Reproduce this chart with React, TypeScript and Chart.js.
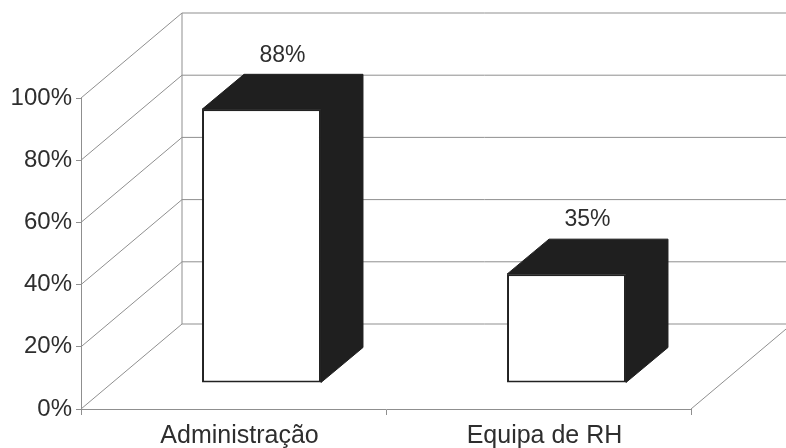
import React, { useEffect, useRef } from "react";
import { Chart, registerables } from "chart.js";

Chart.register(...registerables);

const categories = ["Administração", "Equipa de RH"];
const values = [0.88, 0.35];
const valueLabels = ["88%", "35%"];
const yTicks = [0, 0.2, 0.4, 0.6, 0.8, 1];

const FONT = '"Liberation Sans", Arial, Helvetica, sans-serif';
const WALL_DEPTH = { x: 101, y: -85 };
const BAR_SHIFT = { x: 28, y: -26 };
const BAR_DEPTH = { x: 42, y: -35 };
const LINE = "#8f8f8f";
const DARK = "#1f1f1f";
const TEXT = "#2e2e2e";

const walls3d = {
  id: "walls3d",
  beforeDatasetsDraw(chart: any) {
    const { ctx, chartArea, scales } = chart;
    const ys = scales.y;
    const L = chartArea.left;
    const R = chartArea.right;
    ctx.save();
    ctx.strokeStyle = LINE;
    ctx.lineWidth = 1;
    ctx.beginPath();
    yTicks.forEach((v) => {
      const py = ys.getPixelForValue(v);
      ctx.moveTo(L, py);
      ctx.lineTo(L + WALL_DEPTH.x, py + WALL_DEPTH.y);
      ctx.lineTo(R + WALL_DEPTH.x, py + WALL_DEPTH.y);
    });
    const y0 = ys.getPixelForValue(0);
    const y1 = ys.getPixelForValue(1);
    ctx.moveTo(L + WALL_DEPTH.x, y0 + WALL_DEPTH.y);
    ctx.lineTo(L + WALL_DEPTH.x, y1 + WALL_DEPTH.y);
    ctx.moveTo(R, y0);
    ctx.lineTo(R + WALL_DEPTH.x, y0 + WALL_DEPTH.y);
    ctx.stroke();

    // dark top and side faces of the 3D bars
    ctx.translate(BAR_SHIFT.x, BAR_SHIFT.y);
    const meta = chart.getDatasetMeta(0);
    ctx.fillStyle = DARK;
    ctx.strokeStyle = DARK;
    meta.data.forEach((bar: any) => {
      const { x, y, base, width } = bar.getProps(["x", "y", "base", "width"], true);
      const l = x - width / 2;
      const r = x + width / 2;
      ctx.beginPath();
      ctx.moveTo(l, y);
      ctx.lineTo(l + BAR_DEPTH.x, y + BAR_DEPTH.y);
      ctx.lineTo(r + BAR_DEPTH.x, y + BAR_DEPTH.y);
      ctx.lineTo(r + BAR_DEPTH.x, base + BAR_DEPTH.y);
      ctx.lineTo(r, base);
      ctx.lineTo(r, y);
      ctx.closePath();
      ctx.fill();
      ctx.stroke();
    });
    ctx.restore();
  },
  beforeDatasetDraw(chart: any) {
    chart.ctx.save();
    chart.ctx.translate(BAR_SHIFT.x, BAR_SHIFT.y);
  },
  afterDatasetDraw(chart: any) {
    chart.ctx.restore();
  },
  afterDatasetsDraw(chart: any) {
    const { ctx } = chart;
    const meta = chart.getDatasetMeta(0);
    ctx.save();
    ctx.translate(BAR_SHIFT.x, BAR_SHIFT.y);
    ctx.fillStyle = TEXT;
    ctx.font = `23px ${FONT}`;
    ctx.textAlign = "center";
    ctx.textBaseline = "middle";
    meta.data.forEach((bar: any, i: number) => {
      const { x, y } = bar.getProps(["x", "y"], true);
      ctx.fillText(valueLabels[i], x + BAR_DEPTH.x / 2, y + BAR_DEPTH.y - 19);
    });
    ctx.restore();
  },
};

export default function App() {
  const ref = useRef<HTMLCanvasElement | null>(null);
  useEffect(() => {
    document.body.style.margin = "0";
    const chart = new Chart(ref.current as HTMLCanvasElement, {
      type: "bar",
      data: {
        labels: categories,
        datasets: [
          {
            data: values,
            backgroundColor: "#ffffff",
            borderColor: "#222222",
            borderWidth: 2,
            borderSkipped: false,
            barPercentage: 0.39,
            categoryPercentage: 1,
          },
        ],
      },
      options: {
        animation: false,
        responsive: false,
        events: [],
        layout: { padding: { top: 98, right: 95, left: 0, bottom: 0 } },
        plugins: { legend: { display: false }, tooltip: { enabled: false } },
        scales: {
          x: {
            type: "category",
            offset: true,
            afterFit: (s: any) => {
              s.height = 39;
            },
            grid: {
              display: true,
              drawOnChartArea: false,
              offset: true,
              tickLength: 6,
              color: LINE,
            },
            border: { display: true, color: LINE, width: 1 },
            ticks: {
              color: TEXT,
              font: { family: FONT, size: 25 },
              padding: 6,
              labelOffset: 6,
              maxRotation: 0,
            },
          },
          y: {
            min: 0,
            max: 1,
            afterFit: (s: any) => {
              s.width = 81;
            },
            grid: {
              display: true,
              drawOnChartArea: false,
              tickLength: 5,
              color: LINE,
            },
            border: { display: true, color: LINE, width: 1 },
            ticks: {
              stepSize: 0.2,
              color: TEXT,
              padding: 4,
              font: { family: FONT, size: 24 },
              callback: (v: any) => Math.round(Number(v) * 100) + "%",
            },
          },
        },
      },
      plugins: [walls3d],
    });
    return () => chart.destroy();
  }, []);
  return (
    <div style={{ position: "fixed", left: 0, top: 0, width: 786, height: 448, background: "#fff" }}>
      <canvas ref={ref} width={786} height={448} />
    </div>
  );
}
